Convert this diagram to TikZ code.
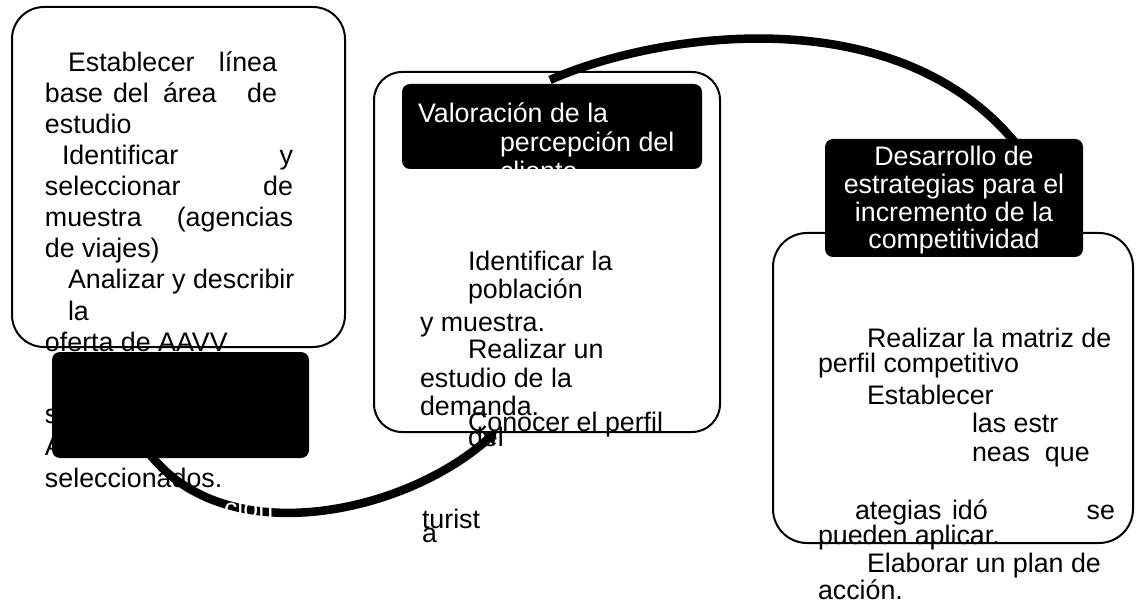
\documentclass[tikz,border=0pt]{standalone}
\usepackage{fontspec}
\setmainfont{Liberation Sans}
\usetikzlibrary{arrows.meta}
\begin{document}
\begin{tikzpicture}[x=1pt,y=-1pt,
  txt/.style={anchor=base west, inner sep=0pt, outer sep=0pt, font=\fontsize{26.8}{31}\selectfont},
  txtr/.style={txt, anchor=base east},
  wtxt/.style={txt, text=white},
  wtxtc/.style={txt, anchor=base, text=white},
  frame/.style={draw=black, line width=2pt, inner sep=0pt, outer sep=0pt, anchor=north west},
  hdr/.style={fill=black, draw=none, rounded corners=8pt, inner sep=0pt, outer sep=0pt, anchor=north west},
  flow/.style={line width=8.5pt, draw=black}]
\fill[white] (0,0) rectangle (1136,604);
\useasboundingbox (0,0) rectangle (1136,604);

% ---------- left box ----------
\node[frame, rounded corners=32pt, minimum width=333pt, minimum height=340pt] (box1) at (12,7) {};
\node[txt]  (l1a) at (68,72)  {Establecer};
\node[txtr] (l1b) at (277,72) {línea};
\node[txt]  (l2a) at (45,103) {base};
\node[txt]  (l2b) at (113,103) {del};
\node[txt]  (l2c) at (163,103) {área};
\node[txtr] (l2d) at (277,103) {de};
\node[txt]  (l3)  at (45,134) {estudio};
\node[txt]  (l4a) at (62,165) {Identificar};
\node[txtr] (l4b) at (293,165) {y};
\node[txt]  (l5a) at (45,196) {seleccionar};
\node[txtr] (l5b) at (293,196) {de};
\node[txt]  (l6a) at (45,227) {muestra};
\node[txtr] (l6b) at (293,227) {(agencias};
\node[txt]  (l7)  at (45,258) {de viajes)};
\node[txt]  (l8)  at (68,289) {Analizar y describir};
\node[txt]  (l9)  at (68,320) {la};
\node[txt]  (l10) at (45,351) {oferta de AAVV};
\node[txt]  (l11) at (45,423) {s};
\node[txt]  (l12) at (45,455) {A};
\node[txt]  (l13) at (45,487) {seleccionados.};

% ---------- middle box ----------
\node[frame, rounded corners=28pt, minimum width=346pt, minimum height=360pt] (box2) at (374,72) {};
\node[hdr, minimum width=300pt, minimum height=85pt] (h2) at (402,84) {};
\node[wtxt] (h2a) at (418,123) {Valoración de la};
\node[wtxt] (h2b) at (500,152) {percepción del};
\node[wtxt] (h2c) at (500,181) {cliente};
\node[txt] (m1) at (468,271) {Identificar la};
\node[txt] (m2) at (468,299) {población};
\node[txt] (m3) at (420,331) {y muestra.};
\node[txt] (m4) at (468,359) {Realizar un};
\node[txt] (m5) at (420,387) {estudio de la};
\node[txt] (m6) at (420,415) {demanda.};
\node[txt] (m7) at (468,431) {Conocer el perfil};
\node[txt] (m8) at (468,446) {del};
\node[txt] (m9) at (422,528) {turist};
\node[txt] (m10) at (422,542) {a};

% ---------- bottom connector ----------
\coordinate (c1s) at (140,440);
\coordinate (c1e) at (497,431);
\draw[flow, -{Triangle[length=12pt,width=16pt]}] (c1s) .. controls (210,555) and (400,518) .. (c1e);
\node[wtxt] (cw) at (224,517) {ción};

% ---------- left black box ----------
\node[hdr, minimum width=257pt, minimum height=106pt] (h1) at (52,352) {};

% ---------- top connector ----------
\coordinate (c2s) at (550,80);
\coordinate (c2m) at (1013,140);
\coordinate (c2e) at (1029,159);
\draw[flow, -{Triangle[length=12pt,width=16pt]}] (c2s) .. controls (650,35) and (890,-5) .. (c2m) -- (c2e);

% ---------- right box ----------
\node[frame, rounded corners=34pt, minimum width=360pt, minimum height=310pt] (box3) at (773,233) {};
\node[hdr, minimum width=258pt, minimum height=118pt] (h3) at (825,139) {};
\node[wtxtc] (h3a) at (954,166) {Desarrollo de};
\node[wtxtc] (h3b) at (954,194) {estrategias para el};
\node[wtxtc] (h3c) at (954,222) {incremento de la};
\node[wtxtc] (h3d) at (954,249) {competitividad};
\node[txt] (r1) at (867,347) {Realizar la matriz de};
\node[txt] (r2) at (818,372) {perfil competitivo};
\node[txt] (r3) at (867,404) {Establecer};
\node[txt] (r4) at (972,432) {las estr};
\node[txt] (r5) at (972,461) {neas\ \ que};
\node[txt] (r6a) at (855,519) {ategias};
\node[txt] (r6b) at (952,519) {idó};
\node[txtr] (r6c) at (1115,519) {se};
\node[txt] (r7) at (818,544) {pueden aplicar.};
\node[txt] (r8) at (867,572) {Elaborar un plan de};
\node[txt] (r9) at (818,599) {acción.};
\end{tikzpicture}
\end{document}
